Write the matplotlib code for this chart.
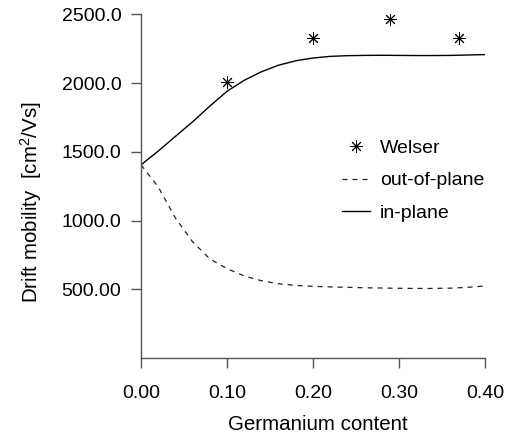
import numpy as np
import matplotlib
matplotlib.use("Agg")
import matplotlib.pyplot as plt

plt.rcParams['font.family'] = ['Liberation Sans', 'DejaVu Sans']
plt.rcParams['mathtext.fontset'] = 'custom'
plt.rcParams['mathtext.rm'] = 'Liberation Sans'
plt.rcParams['mathtext.it'] = 'Liberation Sans'

# germanium content grid used for the two model curves
ge = [0.00, 0.02, 0.04, 0.06, 0.08, 0.10, 0.12, 0.14, 0.16, 0.18, 0.20,
      0.22, 0.24, 0.26, 0.28, 0.30, 0.32, 0.34, 0.36, 0.38, 0.40]
in_plane = [1405, 1505, 1612, 1718, 1832, 1940, 2020, 2082, 2130, 2162, 2182,
            2194, 2199, 2201, 2202, 2201, 2200, 2200, 2201, 2204, 2207]
out_of_plane = [1405, 1245, 1018, 845, 721, 650, 597, 562, 540, 528, 521,
                517, 514, 511, 509, 507, 506, 506, 508, 514, 524]

# Welser measurements
welser_x = [0.10, 0.20, 0.29, 0.37]
welser_y = [2010, 2330, 2465, 2330]

xticks = [0.0, 0.1, 0.2, 0.3, 0.4]
xticklabels = ['0.00', '0.10', '0.20', '0.30', '0.40']
yticks = [500, 1000, 1500, 2000, 2500]
yticklabels = ['500.00', '1000.0', '1500.0', '2000.0', '2500.0']

fig = plt.figure(figsize=(5.1, 4.36), dpi=100)
ax = fig.add_axes([0.2765, 0.1789, 0.6745, 0.7883])

ax.plot(welser_x, welser_y, linestyle='none', marker=(8, 2, 0), ms=9,
        mew=0.7, color='black', label='Welser')
ax.plot(ge, out_of_plane, color='#222222', lw=0.9, linestyle=(0, (4, 4)),
        label='out-of-plane')
ax.plot(ge, in_plane, color='black', lw=1.0, label='in-plane')

ax.set_xlim(0, 0.4)
ax.set_ylim(0, 2500)
ax.set_xticks(xticks)
ax.set_xticklabels(xticklabels)
ax.set_yticks(yticks)
ax.set_yticklabels(yticklabels)

for s in ['top', 'right']:
    ax.spines[s].set_visible(False)
for s in ['left', 'bottom']:
    ax.spines[s].set_color('#555555')
    ax.spines[s].set_linewidth(1.0)

ax.tick_params(axis='both', direction='out', length=7.2, width=1.0,
               color='#555555', labelsize=14)
ax.tick_params(axis='x', pad=12)
ax.tick_params(axis='y', pad=7)

ax.set_xlabel('Germanium content', fontsize=14.8)
ax.set_ylabel(r'Drift mobility  [cm$^2$/Vs]', fontsize=14.8)
ax.xaxis.set_label_coords(0.515, -0.165)
ax.yaxis.set_label_coords(-0.283, 0.454)

ax.legend(loc='upper left', bbox_to_anchor=(342 / 510, 1 - 139 / 436),
          bbox_transform=fig.transFigure, frameon=False, fontsize=14,
          handlelength=1.45, handletextpad=0.5, labelspacing=0.78,
          borderpad=0, borderaxespad=0)

fig.savefig('out.png', dpi=100)
